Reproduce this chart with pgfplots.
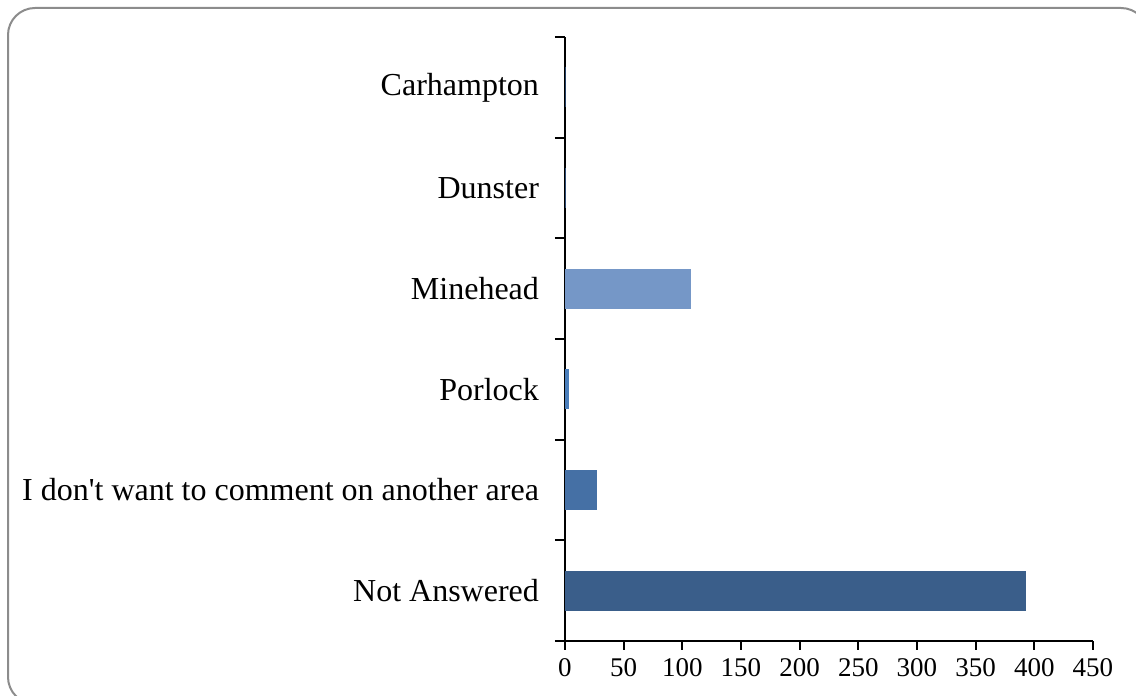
\documentclass[border=0pt]{standalone}
\usepackage{pgfplots}
\pgfplotsset{compat=1.18}
\usepackage{fontspec}
\setmainfont{Liberation Serif}
\definecolor{cNA}{HTML}{3A5E8A}
\definecolor{cIDW}{HTML}{4570A5}
\definecolor{cPor}{HTML}{4A7EBB}
\definecolor{cMin}{HTML}{7597C7}
\definecolor{cDun}{HTML}{2C4A72}
\definecolor{cCar}{HTML}{243F63}
\definecolor{frame}{HTML}{8C8C8C}
\begin{document}
\begin{tikzpicture}[x=0.5pt,y=0.5pt]
\useasboundingbox (0,0) rectangle (1136,696);
\begin{scope}
\clip (0,0) rectangle (1136,696);
\draw[frame, line width=1pt, rounded corners=13.5pt] (8,688) rectangle (1148,-8);
\end{scope}
\begin{axis}[
  at={(282.5pt,27.5pt)}, anchor=south west,
  scale only axis, width=264pt, height=302pt,
  xmin=0, xmax=450, ymin=-0.5, ymax=5.5,
  axis lines=left,
  axis line style={-, line width=1pt, black},
  xbar, bar width=0.4, bar shift=0pt,
  xtick={0,50,...,450},
  ytick={0,1,2,3,4,5},
  yticklabels={Not Answered, I don\textquotesingle t want to comment on another area, Porlock, Minehead, Dunster, Carhampton},
  minor ytick={-0.5,0.5,...,5.5},
  tick align=outside,
  major tick length=4.5pt, minor tick length=5pt,
  major y tick style={draw=none},
  every tick/.style={black, line width=1pt},
  xticklabel style={font=\fontsize{13.5}{15}\selectfont, yshift=-0.5pt},
  yticklabel style={font=\fontsize{16}{18}\selectfont, xshift=-5pt},
  /pgf/number format/assume math mode=true,
  clip=false,
]
\addplot[draw=none, fill=cNA] coordinates {(393,0)};
\addplot[draw=none, fill=cIDW] coordinates {(27,1)};
\addplot[draw=none, fill=cPor] coordinates {(3,2)};
\addplot[draw=none, fill=cMin] coordinates {(107.5,3)};
\addplot[draw=none, fill=cDun] coordinates {(1,4)};
\addplot[draw=none, fill=cCar] coordinates {(0.7,5)};
\end{axis}
\end{tikzpicture}
\end{document}
